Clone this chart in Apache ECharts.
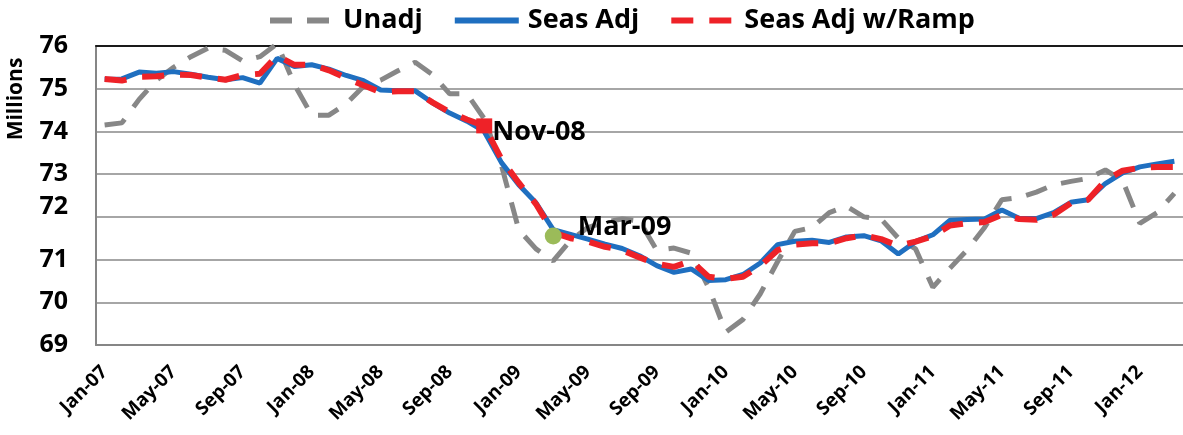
<!DOCTYPE html>
<html>
<head>
<meta charset="utf-8">
<script src="https://cdn.jsdelivr.net/npm/echarts@6/dist/echarts.min.js"></script>
<style>
  html, body { margin: 0; padding: 0; background: #fff; }
  #chart { width: 1183px; height: 435px; }
</style>
</head>
<body>
<div id="chart"></div>
<script>
// months, Jan-07 .. Mar-12
const months = [
  'Jan-07','Feb-07','Mar-07','Apr-07','May-07','Jun-07','Jul-07','Aug-07','Sep-07','Oct-07','Nov-07','Dec-07',
  'Jan-08','Feb-08','Mar-08','Apr-08','May-08','Jun-08','Jul-08','Aug-08','Sep-08','Oct-08','Nov-08','Dec-08',
  'Jan-09','Feb-09','Mar-09','Apr-09','May-09','Jun-09','Jul-09','Aug-09','Sep-09','Oct-09','Nov-09','Dec-09',
  'Jan-10','Feb-10','Mar-10','Apr-10','May-10','Jun-10','Jul-10','Aug-10','Sep-10','Oct-10','Nov-10','Dec-10',
  'Jan-11','Feb-11','Mar-11','Apr-11','May-11','Jun-11','Jul-11','Aug-11','Sep-11','Oct-11','Nov-11','Dec-11',
  'Jan-12','Feb-12','Mar-12'
];

// millions
const unadj = [
  74.15, 74.20, 74.75, 75.20, 75.50, 75.75, 75.95, 75.90, 75.65, 75.75, 76.05, 75.10,
  74.38, 74.38, 74.65, 75.05, 75.20, 75.42, 75.62, 75.33, 74.88, 74.88, 74.30, 73.20,
  71.70, 71.25, 70.97, 71.45, 71.75, 71.88, 71.95, 71.90, 71.22, 71.27, 71.15, 70.35,
  69.30, 69.60, 70.20, 70.95, 71.66, 71.75, 72.10, 72.25, 72.00, 71.95, 71.50, 71.25,
  70.35, 70.80, 71.23, 71.75, 72.40, 72.45, 72.58, 72.75, 72.83, 72.90, 73.10, 72.85,
  71.85, 72.10, 72.55
];
const seasAdj = [
  75.22, 75.23, 75.39, 75.36, 75.40, 75.34, 75.27, 75.21, 75.26, 75.13, 75.71, 75.52,
  75.56, 75.46, 75.31, 75.19, 74.97, 74.95, 74.95, 74.67, 74.43, 74.24, 74.00, 73.27,
  72.75, 72.33, 71.70, 71.59, 71.48, 71.36, 71.26, 71.09, 70.86, 70.70, 70.78, 70.51,
  70.53, 70.65, 70.92, 71.35, 71.43, 71.45, 71.40, 71.53, 71.56, 71.44, 71.13, 71.42,
  71.58, 71.92, 71.94, 71.95, 72.16, 71.97, 71.96, 72.10, 72.34, 72.40, 72.78, 73.03,
  73.17, 73.24, 73.30
];
const seasAdjRamp = [
  75.23, 75.19, 75.28, 75.29, 75.33, 75.32, 75.26, 75.21, 75.32, 75.35, 75.77, 75.56,
  75.56, 75.43, 75.25, 75.08, 74.92, 74.94, 74.94, 74.68, 74.45, 74.28, 74.13, 73.35,
  72.80, 72.30, 71.63, 71.50, 71.42, 71.30, 71.22, 71.05, 70.90, 70.83, 70.97, 70.60,
  70.55, 70.60, 70.85, 71.22, 71.35, 71.38, 71.38, 71.50, 71.57, 71.48, 71.32, 71.42,
  71.55, 71.80, 71.85, 71.88, 72.05, 71.95, 71.93, 72.05, 72.32, 72.40, 72.85, 73.08,
  73.15, 73.17, 73.17
];

// highlighted points
const novPoint = ['Nov-08', 74.13];
const marPoint = ['Mar-09', 71.55];

const FONT = '"Open Sans", "DejaVu Sans", sans-serif';

const chart = echarts.init(document.getElementById('chart'), null, { renderer: 'canvas' });

chart.setOption({
  backgroundColor: '#ffffff',
  animation: false,
  textStyle: { fontFamily: FONT },
  grid: { left: 96, top: 46, right: -5, bottom: 90 },
  legend: {
    left: 262,
    top: 2,
    itemWidth: 64,
    itemHeight: 20,
    itemGap: 29,
    // hide the circle that line series put in the legend icon
    itemStyle: { color: 'rgba(0,0,0,0)', borderWidth: 0, opacity: 0 },
    lineStyle: { width: 6 },
    textStyle: { fontSize: 27, fontWeight: 'bold', color: '#000', padding: [0, 0, 0, 4] },
    data: ['Unadj', 'Seas Adj', 'Seas Adj w/Ramp']
  },
  graphic: [{
    type: 'text',
    x: 16,
    y: 99,
    rotation: Math.PI / 2,
    style: {
      text: 'Millions',
      font: 'bold 21px ' + FONT,
      fill: '#000',
      textAlign: 'center',
      textVerticalAlign: 'middle'
    }
  }],
  xAxis: [{
    type: 'category',
    data: months,
    boundaryGap: true,
    axisLine: { lineStyle: { color: '#868686', width: 2 } },
    axisTick: { interval: 3, length: 6, lineStyle: { color: '#868686', width: 2 } },
    axisLabel: {
      interval: 3,
      rotate: 45,
      margin: 24,
      fontSize: 19,
      fontWeight: 'bold',
      color: '#000'
    }
  }, {
    type: 'category',
    data: months,
    position: 'top',
    axisLine: { lineStyle: { color: '#1a1a1a', width: 2 } },
    axisTick: { show: false },
    axisLabel: { show: false }
  }],
  yAxis: {
    type: 'value',
    min: 69,
    max: 76,
    interval: 1,
    axisLine: { show: true, lineStyle: { color: '#868686', width: 2 } },
    axisTick: { show: false },
    splitLine: { lineStyle: { color: '#a6a6a6', width: 2 } },
    axisLabel: {
      margin: 28,
      fontSize: 25,
      fontWeight: 'bold',
      color: '#000',
      formatter: v => v === 72 ? '{up|72}' : String(v),
      rich: {
        up: { fontSize: 25, fontWeight: 'bold', color: '#000', fontFamily: FONT, padding: [0, 0, 20, 0] }
      }
    }
  },
  series: [
    {
      name: 'Unadj',
      type: 'line',
      data: unadj,
      symbol: 'none',
      color: '#878787',
      lineStyle: { color: '#878787', width: 5, type: [22, 15] },
      z: 2
    },
    {
      name: 'Seas Adj',
      type: 'line',
      data: seasAdj,
      symbol: 'none',
      color: '#1f6fc0',
      lineStyle: { color: '#1f6fc0', width: 5 },
      z: 3
    },
    {
      name: 'Seas Adj w/Ramp',
      type: 'line',
      data: seasAdjRamp,
      symbol: 'none',
      color: '#ee2228',
      lineStyle: { color: '#ee2228', width: 6, type: [22, 16] },
      z: 4
    },
    {
      name: 'nov',
      type: 'scatter',
      data: [novPoint],
      symbol: 'rect',
      symbolSize: [16, 15],
      itemStyle: { color: '#ee2228', opacity: 1 },
      label: {
        show: true,
        position: 'right',
        distance: 0,
        offset: [0, 6],
        formatter: p => p.data[0],
        fontSize: 27,
        fontWeight: 'bold',
        color: '#000'
      },
      z: 5
    },
    {
      name: 'mar',
      type: 'scatter',
      data: [marPoint],
      symbol: 'circle',
      symbolSize: 17,
      itemStyle: { color: '#9bbb59', opacity: 1 },
      label: {
        show: true,
        position: 'right',
        distance: 16,
        offset: [0, -9],
        formatter: p => p.data[0],
        fontSize: 27,
        fontWeight: 'bold',
        color: '#000'
      },
      z: 5
    }
  ]
});
</script>
</body>
</html>
